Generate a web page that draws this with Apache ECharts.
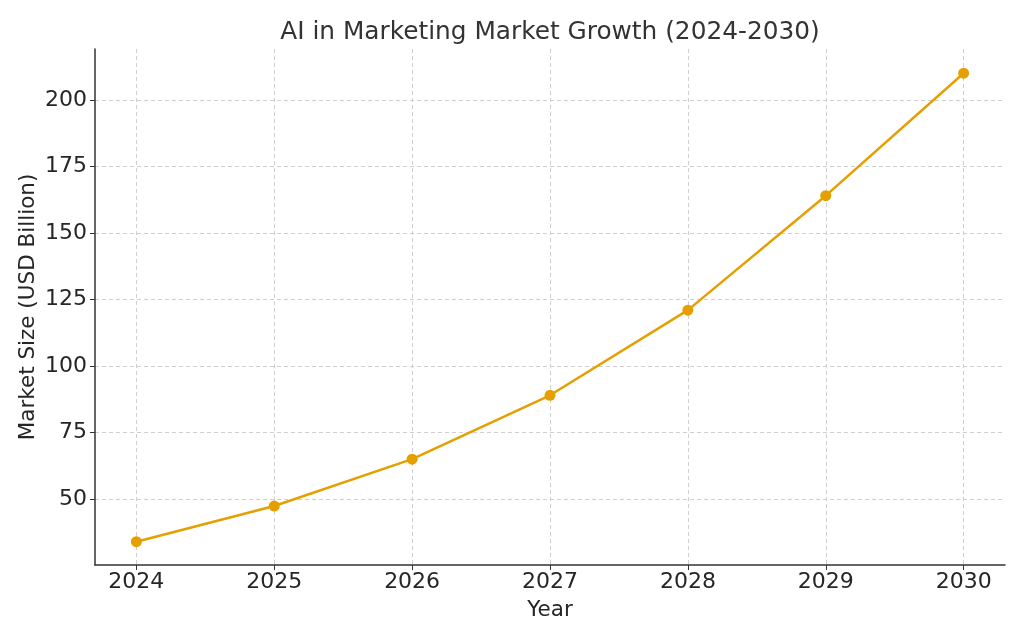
<!DOCTYPE html>
<html>
<head>
<meta charset="utf-8">
<script src="https://cdn.jsdelivr.net/npm/echarts@6/dist/echarts.min.js"></script>
<style>
  html, body { margin: 0; padding: 0; background: #fff; }
  #chart { width: 1024px; height: 640px; }
</style>
</head>
<body>
<div id="chart"></div>
<script>
const years = [2024, 2025, 2026, 2027, 2028, 2029, 2030]
const marketSize = [34, 47.4, 65, 89, 121, 164, 210]
const yTicks = [50, 75, 100, 125, 150, 175, 200]

const font = 'DejaVu Sans'
const textColor = '#262626'
const gridLine = { show: true, lineStyle: { color: '#cfcfcf', type: [4, 3], width: 1 } }

const chart = echarts.init(document.getElementById('chart'))
chart.setOption({
  animation: false,
  title: {
    text: 'AI in Marketing Market Growth (2024-2030)',
    left: 545,
    top: 15,
    textAlign: 'center',
    textStyle: { fontFamily: font, fontSize: 24.8, fontWeight: 'normal', color: '#333' }
  },
  grid: { left: 95, right: 19, top: 49, bottom: 75 },
  xAxis: {
    type: 'value',
    min: 2023.7,
    max: 2030.3,
    name: 'Year',
    nameLocation: 'middle',
    nameGap: 34,
    nameMoveOverlap: false,
    nameTextStyle: { fontFamily: font, fontSize: 21.5, color: textColor },
    axisLine: { lineStyle: { color: '#333', width: 1.5 } },
    axisTick: { show: true, length: 5, customValues: years, lineStyle: { color: '#333' } },
    axisLabel: { customValues: years, fontFamily: font, fontSize: 22, color: textColor, margin: 6, formatter: v => String(v) },
    splitLine: gridLine
  },
  yAxis: {
    type: 'value',
    min: 25.25,
    max: 219.1,
    name: 'Market Size (USD Billion)',
    nameLocation: 'middle',
    nameGap: 56,
    nameMoveOverlap: false,
    nameTextStyle: { fontFamily: font, fontSize: 21.5, color: textColor },
    axisLine: { show: true, lineStyle: { color: '#333', width: 1.5 } },
    axisTick: { show: true, length: 5, customValues: yTicks, lineStyle: { color: '#333' } },
    axisLabel: { customValues: yTicks, fontFamily: font, fontSize: 22, color: textColor, margin: 8 },
    splitLine: gridLine
  },
  series: [
    {
      type: 'line',
      data: years.map((y, i) => [y, marketSize[i]]),
      symbol: 'circle',
      symbolSize: 11,
      itemStyle: { color: '#E69F00' },
      lineStyle: { color: '#E69F00', width: 2.5 }
    }
  ]
})
</script>
</body>
</html>
